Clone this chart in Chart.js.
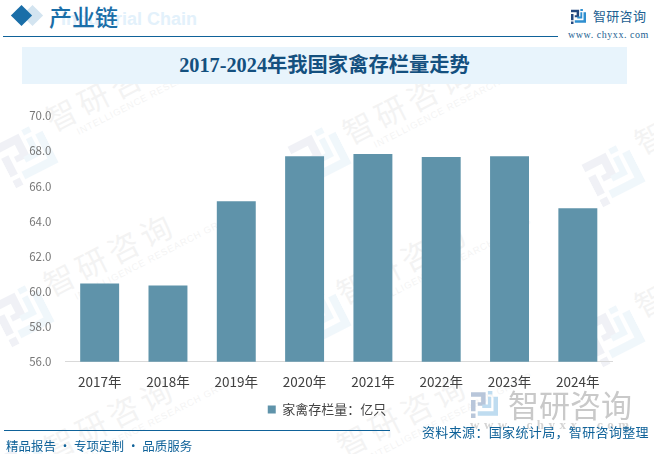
<!DOCTYPE html>
<html>
<head>
<meta charset="utf-8">
<script src="https://cdn.jsdelivr.net/npm/chart.js@4/dist/chart.umd.min.js"></script>
<style>
    html, body { margin: 0; padding: 0; background: #fff; }
    #page { position: relative; width: 654px; height: 454px; overflow: hidden; font-family: "Noto Sans CJK SC", sans-serif; }
    #page div, #page svg { position: absolute; white-space: nowrap; }
    canvas { position: absolute; left: 0; top: 0; }
    .mark { transform: rotate(-27deg); transform-origin: left center; color: #000; opacity: 0.045; font-size: 31px; line-height: 36px; letter-spacing: 5px; }
    .mark span { position: absolute; left: 22px; top: 36px; font: 9.5px "Liberation Sans"; line-height: 12px; letter-spacing: 0.8px; }
    .tile { transform: rotate(-27deg); opacity: 0.08; --l: #4a5f94; --r: #4fa3d8; }
    .l { fill: var(--l); }
    .r { fill: var(--r); }
</style>
</head>
<body>
<div id="page">
    <svg width="0" height="0">
        <symbol id="logo" viewBox="0 0 24 24">
            <path class="l" d="M0 1H13V13H6V10H9V5H0ZM0 8H4V18H0ZM0 20H4V24H0Z"/>
            <path class="r" d="M15 0H19V3H15ZM20 5H24V22H6V18H20ZM15 5H18V15H10V12H15Z"/>
        </symbol>
    </svg>
    <div id="marks"></div>
    <div style="left:61px;top:8px;font:bold 18px 'Liberation Sans';line-height:22px;color:#e3f1fb;">Industrial Chain</div>
    <div style="left:25px;top:8px;width:15px;height:15px;background:#d3e4f0;transform:rotate(45deg);"></div>
    <div style="left:14px;top:8px;width:15px;height:15px;background:#1a6ea8;transform:rotate(45deg);"></div>
    <div style="left:49px;top:0;font:500 23px 'Noto Sans CJK SC';color:#1a6ea8;line-height:32px;">产业链</div>
    <div style="left:3px;top:36px;width:555px;height:1px;background:#0f6299;"></div>
    <svg style="left:571px;top:9px;--l:#24487f;--r:#2f8fd0;" width="15" height="15"><use href="#logo"/></svg>
    <div style="left:593px;top:6px;font-size:13px;line-height:20px;color:#1d5f92;letter-spacing:0.3px;">智研咨询</div>
    <div style="left:568px;top:28px;font:10px 'Liberation Serif';line-height:14px;color:#1d5f92;letter-spacing:0.55px;">www. chyxx. com</div>
    <div style="left:22px;top:47px;width:605px;height:37px;background:#e8f4fc;"></div>
    <div style="left:22px;top:47px;width:605px;height:37px;line-height:37px;text-align:center;font-family:'Liberation Serif','Noto Sans CJK SC';font-weight:bold;font-size:20.3px;color:#14507f;">2017-2024年我国家禽存栏量走势</div>
    <canvas id="chart" width="654" height="454"></canvas>
    <svg style="left:471px;top:391px;--l:#b8c6da;--r:#bfdcf0;" width="27" height="27"><use href="#logo"/></svg>
    <div style="left:508px;top:384px;font-size:31px;line-height:40px;color:#c9c9c9;">智研咨询</div>
    <div style="left:470px;top:417px;font:bold 13px 'Liberation Serif';line-height:16px;color:#d4d4d4;letter-spacing:4.5px;">www. chyxx. com</div>
    <div style="left:4px;top:430px;width:386px;height:1px;background:#0f6299;"></div>
    <div style="left:6px;top:437px;font-size:12.5px;line-height:18px;color:#0f6299;">精品报告 · 专项定制 · 品质服务</div>
    <div style="left:422px;top:422px;font-size:13px;line-height:20px;color:#0f6299;letter-spacing:0.35px;">资料来源：国家统计局，智研咨询整理</div>
</div>
<script>
const categories = ['2017年', '2018年', '2019年', '2020年', '2021年', '2022年', '2023年', '2024年'];
const poultryStock = [60.46, 60.34, 65.14, 67.71, 67.83, 67.66, 67.71, 64.74];
const seriesName = '家禽存栏量：亿只';
const yTicks = [56, 58, 60, 62, 64, 66, 68, 70];

// faint watermark tiles behind the chart
const marksDiv = document.getElementById('marks');
[[47, 121], [344, 134], [636, 144], [45, 286], [338, 294], [636, 307], [45, 450], [338, 447]].forEach(p => {
    const el = document.createElement('div');
    el.className = 'mark';
    el.style.left = p[0] + 'px';
    el.style.top = (p[1] - 18) + 'px';
    el.innerHTML = '智研咨询<span>INTELLIGENCE RESEARCH GROUP</span>';
    marksDiv.appendChild(el);
});
[[27, 155], [320, 156], [614, 174], [23, 314], [320, 318], [614, 334], [23, 470]].forEach(p => {
    const el = document.createElementNS('http://www.w3.org/2000/svg', 'svg');
    el.setAttribute('class', 'tile');
    el.setAttribute('width', 50);
    el.setAttribute('height', 50);
    el.style.left = (p[0] - 25) + 'px';
    el.style.top = (p[1] - 25) + 'px';
    el.innerHTML = '<use href="#logo"/>';
    marksDiv.appendChild(el);
});

// legend is centred under the whole page in the reference, not under the plot
const legendShift = {
    id: 'legendShift',
    afterLayout(chart) {
        chart.legend.left += 21;
        chart.legend.right += 21;
    }
};

const ctx = document.getElementById('chart').getContext('2d');
new Chart(ctx, {
    type: 'bar',
    data: {
        labels: categories,
        datasets: [{
            label: seriesName,
            data: poultryStock,
            backgroundColor: '#5f93aa',
            barPercentage: 0.57,
            categoryPercentage: 1
        }]
    },
    plugins: [legendShift],
    options: {
        responsive: false,
        animation: false,
        layout: { padding: { top: 116, right: 42, bottom: 28, left: 0 } },
        plugins: {
            tooltip: { enabled: false },
            legend: {
                position: 'bottom',
                labels: {
                    boxWidth: 8,
                    boxHeight: 8,
                    padding: 9,
                    color: '#444',
                    font: { family: '"Noto Sans CJK SC"', size: 13 }
                }
            }
        },
        scales: {
            x: {
                grid: { display: false },
                border: { color: '#d9d9d9' },
                ticks: { color: '#404040', padding: 4, font: { family: '"Noto Sans CJK SC"', size: 13.5 } }
            },
            y: {
                min: 56,
                max: 70,
                grid: { display: false },
                border: { display: false },
                afterFit: scale => { scale.width = 65.5; },
                afterBuildTicks: scale => { scale.ticks = yTicks.map(v => ({ value: v })); },
                ticks: {
                    color: '#777',
                    padding: 6,
                    font: { family: '"Noto Sans CJK SC"', size: 11.5 },
                    callback: v => v.toFixed(1)
                }
            }
        }
    }
});
</script>
</body>
</html>
